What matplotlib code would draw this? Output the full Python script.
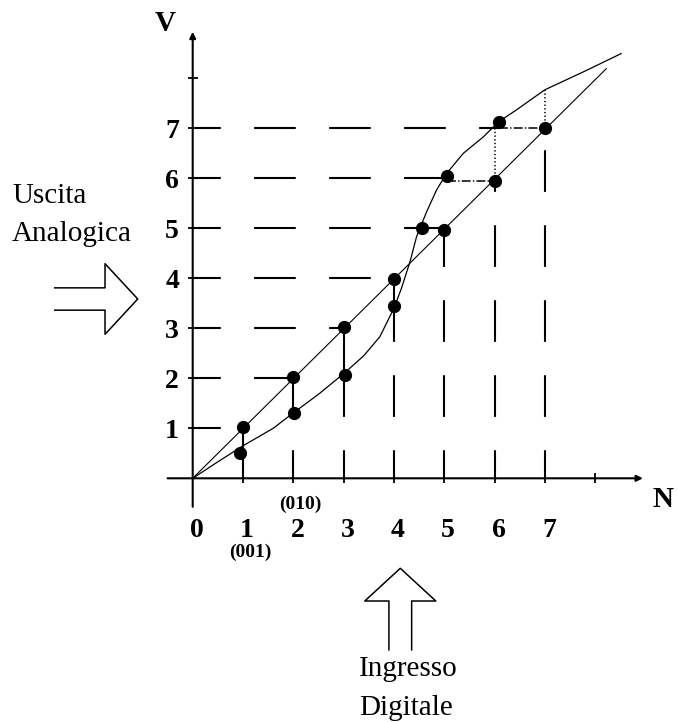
import matplotlib
matplotlib.use('Agg')
import matplotlib.pyplot as plt

plt.rcParams.update({
    'font.family': ['Liberation Serif', 'DejaVu Serif'],
    'lines.scale_dashes': False,
    'lines.solid_capstyle': 'butt',
    'lines.dash_capstyle': 'butt',
})

# ── dati ──────────────────────────────────────────────────────
N_TICKS = [1, 2, 3, 4, 5, 6, 7]
V_TICKS = [1, 2, 3, 4, 5, 6, 7]
N_LABELS = ['0', '1', '2', '3', '4', '5', '6', '7']
V_LABELS = ['1', '2', '3', '4', '5', '6', '7']

# punti della caratteristica ideale (retta)
IDEAL_N = [1, 2, 3, 4, 5, 6, 7]
IDEAL_V = [1.02, 2.03, 3.03, 3.99, 4.97, 5.95, 7.0]
IDEAL_LINE_N = [0, 8.23]
IDEAL_LINE_V = [0, 8.2]

# punti della caratteristica reale (curva)
REAL_N = [0.95, 2.02, 3.03, 4.0, 4.55, 5.05, 6.08]
REAL_V = [0.5, 1.3, 2.07, 3.45, 5.0, 6.05, 7.12]
CURVE_N = [0, 0.5, 1.0, 1.6, 2.03, 2.5, 3.01, 3.4, 3.72, 4.0, 4.15, 4.32,
           4.45, 4.65, 4.85, 5.05, 5.38, 5.78, 6.08, 6.44, 7.0, 7.77, 8.53]
CURVE_V = [0, 0.33, 0.65, 1.0, 1.33, 1.68, 2.1, 2.45, 2.83, 3.4, 3.8, 4.33,
           4.83, 5.33, 5.77, 6.1, 6.5, 6.83, 7.13, 7.37, 7.77, 8.13, 8.5]

# fine delle linee tratteggiate di riferimento
H_DASH_END = [1, 2, 3, 4, 4.55, 5.05, 6.08]
V_DASH_END = [0.5, 1.3, 2.07, 3.45, 4.97, 5.95, 7.0]

DASH = (10, (30, 24))
LW_AX = 1.5


def hollow_arrow(ax, x, y, length, half_w, head_half_w, head_len, vertical=False):
    """Freccia vuota aperta in coda (come nel disegno originale)."""
    a = [0, length - head_len, length - head_len, length,
         length - head_len, length - head_len, 0]
    c = [half_w, half_w, head_half_w, 0, -head_half_w, -half_w, -half_w]
    if vertical:
        ax.plot([x + ci for ci in c], [y + ai for ai in a], color='black', lw=1.1)
    else:
        ax.plot([x + ai for ai in a], [y + ci for ci in c], color='black', lw=1.1)


fig = plt.figure(figsize=(6.78, 7.22), dpi=100)
ax = fig.add_axes([0, 0, 1, 1])
ax.set_xlim(-3.831, 9.648)
ax.set_ylim(-4.874, 9.566)
ax.axis('off')

# assi con frecce
ax.annotate('', xy=(8.95, 0), xytext=(-0.5, 0),
            arrowprops=dict(arrowstyle='-|>', lw=LW_AX, color='black',
                            mutation_scale=9, shrinkA=0, shrinkB=0))
ax.annotate('', xy=(0, 8.93), xytext=(0, -0.57),
            arrowprops=dict(arrowstyle='-|>', lw=LW_AX, color='black',
                            mutation_scale=9, shrinkA=0, shrinkB=0))
ax.plot(N_TICKS + [8], [0] * 8, ls='none', marker='|', ms=7, mew=1.3, color='black')
ax.plot([0] * 8, V_TICKS + [8], ls='none', marker='_', ms=7, mew=1.3, color='black')

# linee tratteggiate di riferimento
for v, xe in zip(V_TICKS, H_DASH_END):
    ax.plot([0, xe], [v, v], color='black', lw=1.5, ls=DASH)
for n, ye in zip(N_TICKS, V_DASH_END):
    ax.plot([n, n], [0, ye], color='black', lw=1.5, ls=DASH)

# collegamenti tra punti ideali e reali
for i in range(4):
    ax.plot([IDEAL_N[i], IDEAL_N[i]], [REAL_V[i], IDEAL_V[i]], color='black', lw=1.5)
ax.plot([REAL_N[4], IDEAL_N[4]], [REAL_V[4], REAL_V[4]], color='black', lw=1.5)
ax.plot([REAL_N[5], IDEAL_N[5]], [IDEAL_V[5], IDEAL_V[5]], color='black', lw=1.1, ls='-.')
ax.plot([REAL_N[6], IDEAL_N[6]], [IDEAL_V[6], IDEAL_V[6]], color='black', lw=1.1, ls='-.')
ax.plot([IDEAL_N[5], IDEAL_N[5]], [IDEAL_V[5], REAL_V[6]], color='black', lw=1.1, ls=':')
ax.plot([IDEAL_N[6], IDEAL_N[6]], [IDEAL_V[6], CURVE_V[20]], color='black', lw=1.1, ls=':')

# caratteristiche
ax.plot(IDEAL_LINE_N, IDEAL_LINE_V, color='black', lw=0.8)
ax.plot(CURVE_N, CURVE_V, color='black', lw=0.9)
ax.plot(IDEAL_N, IDEAL_V, ls='none', marker='o', ms=8.5, color='black')
ax.plot(REAL_N, REAL_V, ls='none', marker='o', ms=8.5, color='black')

# etichette assi
for i, lab in enumerate(N_LABELS):
    ax.text(i + 0.08, -1.05, lab, ha='center', va='center', fontsize=20, fontweight='bold')
for v, lab in zip(V_TICKS, V_LABELS):
    ax.text(-0.41, v - 0.06, lab, ha='center', va='center', fontsize=20, fontweight='bold')
ax.text(1.14, -1.49, '(001)', ha='center', va='center', fontsize=14, fontweight='bold')
ax.text(2.14, -0.52, '(010)', ha='center', va='center', fontsize=14, fontweight='bold')
ax.text(-0.55, 9.09, 'V', ha='center', va='center', fontsize=21, fontweight='bold')
ax.text(9.35, -0.43, 'N', ha='center', va='center', fontsize=21, fontweight='bold')

# uscita analogica
ax.text(-3.59, 5.5, 'Uscita', ha='left', va='baseline', fontsize=21)
ax.text(-3.59, 4.75, 'Analogica', ha='left', va='baseline', fontsize=21)
hollow_arrow(ax, -2.757, 3.586, 1.664, 0.223, 0.706, 0.65)

# ingresso digitale
hollow_arrow(ax, 4.127, -3.446, 1.646, 0.226, 0.706, 0.654, vertical=True)
ax.text(3.306, -3.95, 'Ingresso', ha='left', va='baseline', fontsize=21)
ax.text(3.306, -4.73, 'Digitale', ha='left', va='baseline', fontsize=21)

fig.savefig('out.png', dpi=100, facecolor='white')
